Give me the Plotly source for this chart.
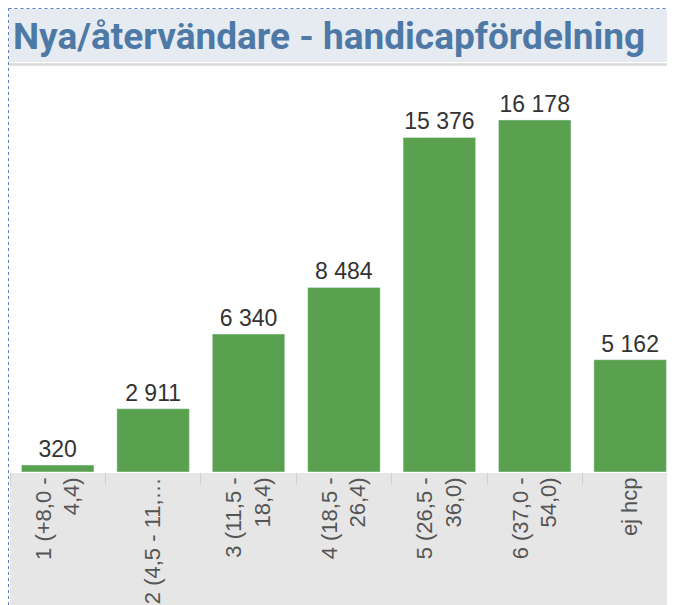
import plotly.graph_objects as go

categories = ["1 (+8,0 -<br>4,4)", "2 (4,5 - 11,…", "3 (11,5 -<br>18,4)", "4 (18,5 -<br>26,4)",
              "5 (26,5 -<br>36,0)", "6 (37,0 -<br>54,0)", "ej hcp"]
values = [320, 2911, 6340, 8484, 15376, 16178, 5162]
title_text = "Nya/återvändare - handicapfördelning"

OFF = 8  # body margin offset of the page
W, H = 675 - OFF, 605 - OFF
def py(p):
    return 1 - (p - OFF) / H
def px_(p):
    return (p - OFF) / W

fig = go.Figure(go.Bar(
    x=categories, y=values,
    marker_color="#59a14f", width=0.76,
    texttemplate="%{y:,.0f}", textposition="outside",
    textfont=dict(size=23, color="#333333", family="Liberation Sans"),
    cliponaxis=False, hoverinfo="skip",
))

shapes = [
    dict(type="rect", xref="paper", yref="paper", x0=px_(10), x1=1, y0=0, y1=py(473),
         fillcolor="#e6e6e6", line_width=0, layer="below"),
    dict(type="rect", xref="paper", yref="paper", x0=px_(9), x1=1, y0=py(62), y1=py(9),
         fillcolor="#e5ebf0", line_width=0, layer="below"),
    dict(type="line", xref="paper", yref="paper", x0=px_(9), x1=1, y0=py(64.5), y1=py(64.5),
         line=dict(color="#d9d9d9", width=2.5)),
    dict(type="line", xref="paper", yref="paper", x0=px_(8.5), x1=1, y0=py(8.5), y1=py(8.5),
         line=dict(color="#5b7fc0", width=1, dash="dot")),
    dict(type="line", xref="paper", yref="paper", x0=px_(8.5), x1=px_(8.5), y0=0, y1=py(8.5),
         line=dict(color="#5b7fc0", width=1, dash="dot")),
]

fig.update_layout(
    width=W, height=H,
    margin=dict(l=0, r=0, t=0, b=0),
    paper_bgcolor="white", plot_bgcolor="rgba(0,0,0,0)",
    separators=", ",
    showlegend=False,
    shapes=shapes,
    annotations=[dict(text=title_text, xref="paper", yref="paper", x=px_(11), y=py(37),
                      xanchor="left", yanchor="middle", showarrow=False,
                      font=dict(size=37, color="#4e79a7", family="Roboto", weight="bold"))],
    xaxis=dict(domain=[px_(10), 1], range=[-0.5, 6.47], type="category", automargin=False,
               tickangle=-90, tickfont=dict(size=22, color="#555555", family="Liberation Sans"),
               ticks="outside", tickson="boundaries", ticklen=11, tickcolor="#cfcfcf", tickwidth=1,
               showgrid=False, zeroline=False, showline=False),
    yaxis=dict(domain=[py(472), py(70)], range=[0, 18474], visible=False, automargin=False),
)

fig.write_html("out.html")
